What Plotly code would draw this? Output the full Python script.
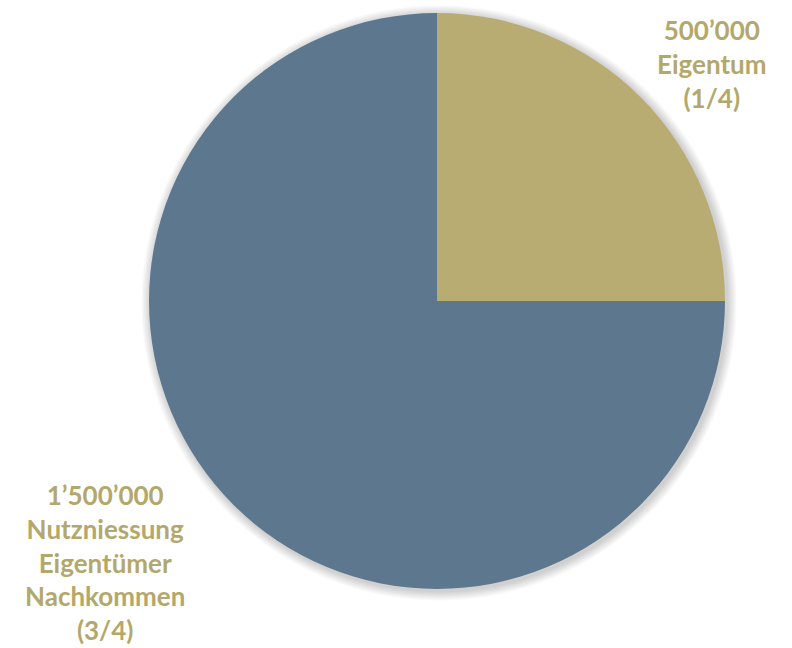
import plotly.graph_objects as go

# Data
labels = ["Eigentum", "Nutzniessung Eigentümer Nachkommen"]
values = [500000, 1500000]
fractions = ["1/4", "3/4"]
amounts = ["500’000", "1’500’000"]

W, H = 792, 648
GOLD = "#B8AC72"
BLUE = "#5D788E"
TEXT = "#B3A86C"

# Pie placement in pixels
cx, cy, r = 437, 301, 288
dom_x = [(cx - r) / W, (cx + r) / W]
dom_y = [1 - (cy + r) / H, 1 - (cy - r) / H]

fig = go.Figure()

# Soft drop shadow around the pie
for k in range(8, 0, -1):
    rr = r + k * 1.2
    ox, oy = 2, 2
    fig.add_shape(
        type="circle", xref="paper", yref="paper", layer="below",
        x0=(cx + ox - rr) / W, x1=(cx + ox + rr) / W,
        y0=1 - (cy + oy + rr) / H, y1=1 - (cy + oy - rr) / H,
        fillcolor="rgba(0,0,0,0.025)", line=dict(width=0),
    )

fig.add_trace(go.Pie(
    labels=labels,
    values=values,
    sort=False,
    direction="clockwise",
    rotation=0,
    marker=dict(colors=[GOLD, BLUE], line=dict(width=0)),
    textinfo="none",
    hoverinfo="label+value",
    domain=dict(x=dom_x, y=dom_y),
    showlegend=False,
))

font = dict(family="Lato, 'Open Sans', sans-serif", size=26, color=TEXT)

top_text = "<b>" + amounts[0] + "<br>" + labels[0] + "<br>(" + fractions[0] + ")</b>"
bottom_text = ("<b>" + amounts[1] + "<br>" + "<br>".join(labels[1].split(" "))
               + "<br>(" + fractions[1] + ")</b>")

fig.add_annotation(
    text=top_text, xref="paper", yref="paper", x=712 / W, y=1 - 64 / H,
    showarrow=False, align="center", xanchor="center", yanchor="middle",
    font=font,
)
fig.add_annotation(
    text=bottom_text, xref="paper", yref="paper", x=105 / W, y=1 - 562 / H,
    showarrow=False, align="center", xanchor="center", yanchor="middle",
    font=font,
)

fig.update_layout(
    width=W, height=H,
    margin=dict(l=0, r=0, t=0, b=0),
    paper_bgcolor="white",
    plot_bgcolor="white",
)

fig.write_html("out.html")
